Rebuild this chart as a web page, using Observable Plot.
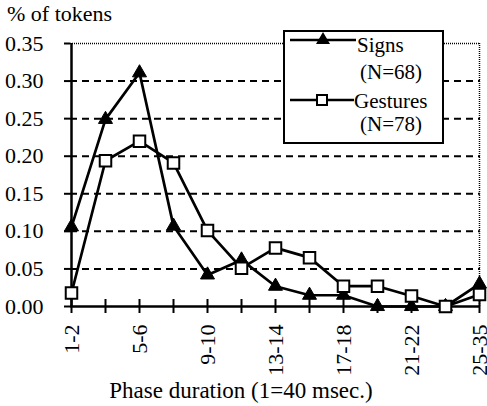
<!DOCTYPE html>
<html>
<head>
<meta charset="utf-8">
<script src="https://cdn.jsdelivr.net/npm/d3@7"></script>
<script src="https://cdn.jsdelivr.net/npm/@observablehq/plot@0.6"></script>
<style>
  html, body { margin: 0; padding: 0; background: white; }
  #chart { width: 487px; height: 406px; }
  #chart svg text { font-family: "Liberation Serif", "DejaVu Serif", serif !important; }
</style>
</head>
<body>
<div id="chart"></div>
<script>
const categories = ["1-2","3-4","5-6","7-8","9-10","11-12","13-14","15-16","17-18","19-20","21-22","23-24","25-35"];
const signs    = [0.106, 0.249, 0.311, 0.107, 0.042, 0.062, 0.027, 0.015, 0.015, 0.0, 0.0, 0.0, 0.030];
const gestures = [0.018, 0.194, 0.220, 0.191, 0.101, 0.051, 0.078, 0.065, 0.027, 0.027, 0.014, 0.0, 0.016];
const yTicks = [0, 0.05, 0.10, 0.15, 0.20, 0.25, 0.30, 0.35];
const gridValues = [0.05, 0.10, 0.15, 0.20, 0.25, 0.30];
const labelledCats = ["1-2","5-6","9-10","13-14","17-18","21-22","25-35"];
const seriesNames = ["Signs", "Gestures"];
const seriesN = ["(N=68)", "(N=78)"];
const yTitle = "% of tokens";
const xTitle = "Phase duration (1=40 msec.)";

const signsData = categories.map((c, i) => ({cat: c, v: signs[i]}));
const gestData = categories.map((c, i) => ({cat: c, v: gestures[i]}));

const FONT = "Liberation Serif";

const chart = Plot.plot({
  width: 487,
  height: 406,
  marginLeft: 70,
  marginRight: 7,
  marginTop: 43,
  marginBottom: 100,
  style: {fontFamily: FONT, fontSize: "22px", color: "black", background: "white"},
  x: {type: "point", domain: categories, padding: 0},
  y: {domain: [0, 0.35]},
  marks: [
    Plot.ruleY(gridValues, {stroke: "black", strokeWidth: 2, strokeDasharray: "7,5"}),
    Plot.ruleY([0.35], {stroke: "black", strokeWidth: 1.5, strokeDasharray: "1,1"}),
    Plot.ruleX([categories[categories.length - 1]], {stroke: "black", strokeWidth: 1.5, strokeDasharray: "1,1"}),
    Plot.ruleX([categories[0]], {stroke: "black", strokeWidth: 2.5}),
    Plot.ruleY([0], {stroke: "black", strokeWidth: 2.5}),
    Plot.axisY({ticks: yTicks, tickFormat: d3.format(".2f"), tickSize: 6, tickPadding: 21, label: null, fontSize: 22, strokeWidth: 2}),
    Plot.axisX({tickSize: 7, tickPadding: 11, tickRotate: -90, label: null, fontSize: 22, strokeWidth: 2,
      tickFormat: d => labelledCats.includes(d) ? d : ""}),
    Plot.axisX({tickSize: 7, dy: -7, label: null, strokeWidth: 2, tickFormat: () => ""}),
    Plot.line(signsData, {x: "cat", y: "v", stroke: "black", strokeWidth: 2.7}),
    Plot.line(gestData, {x: "cat", y: "v", stroke: "black", strokeWidth: 2.7}),
    Plot.dot(signsData, {x: "cat", y: "v", symbol: "triangle", r: 5.2, fill: "black", stroke: "black", strokeWidth: 1}),
    Plot.dot(gestData, {x: "cat", y: "v", symbol: "square", r: 6.5, fill: "white", stroke: "black", strokeWidth: 2})
  ]
});
document.getElementById("chart").appendChild(chart);

const svg = d3.select(chart);
const t = svg.append("g").attr("font-family", FONT).attr("fill", "black").attr("text-anchor", "start");
t.append("text").attr("x", 7).attr("y", 21).attr("font-size", 22).attr("text-anchor", "start").text(yTitle);
t.append("text").attr("x", 241).attr("y", 398).attr("font-size", 23).attr("text-anchor", "middle").text(xTitle);

// Legend box
const g = svg.append("g").attr("font-family", FONT).attr("font-size", 21).attr("fill", "black").attr("text-anchor", "start");
g.append("rect").attr("x", 284).attr("y", 31).attr("width", 159).attr("height", 112)
  .attr("fill", "white").attr("stroke", "black").attr("stroke-width", 2);
g.append("line").attr("x1", 290).attr("x2", 356).attr("y1", 40).attr("y2", 40).attr("stroke", "black").attr("stroke-width", 2.5);
g.append("path").attr("d", d3.symbol(d3.symbolTriangle, Math.PI * 5.2 * 5.2)()).attr("transform", "translate(323,40)").attr("fill", "black");
g.append("text").attr("x", 357).attr("y", 52).attr("text-anchor", "start").text(seriesNames[0]);
g.append("text").attr("x", 360).attr("y", 79).attr("text-anchor", "start").text(seriesN[0]);
g.append("line").attr("x1", 290).attr("x2", 354).attr("y1", 100).attr("y2", 100).attr("stroke", "black").attr("stroke-width", 2.5);
g.append("rect").attr("x", 317).attr("y", 95).attr("width", 10).attr("height", 10).attr("fill", "white").attr("stroke", "black").attr("stroke-width", 2);
g.append("text").attr("x", 354).attr("y", 108).attr("text-anchor", "start").text(seriesNames[1]);
g.append("text").attr("x", 360).attr("y", 131).attr("text-anchor", "start").text(seriesN[1]);
</script>
</body>
</html>
